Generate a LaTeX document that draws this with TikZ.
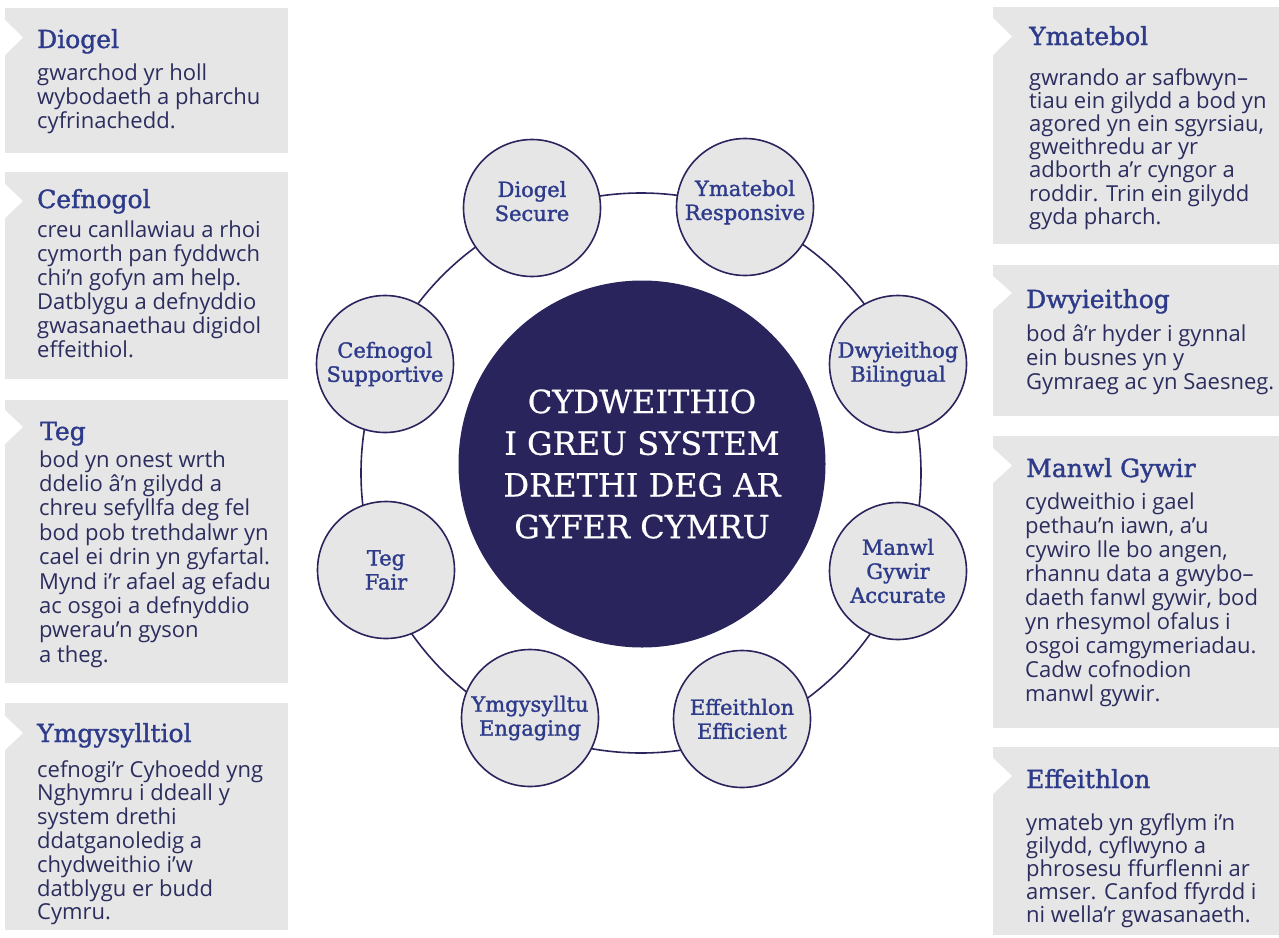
\documentclass[tikz,border=0pt]{standalone}
\usepackage{fontspec}
\setmainfont{Open Sans}
\newfontfamily\slab[FakeBold=1.4]{DejaVu Serif}
\newfontfamily\coref[FakeBold=0.6]{DejaVu Serif}
\newfontfamily\bodyf{Open Sans}
\definecolor{boxgray}{HTML}{E6E6E6}
\definecolor{navy}{HTML}{2A245C}
\definecolor{titleblue}{HTML}{2D3B8A}
\definecolor{bodyink}{HTML}{2B2D5E}
\tikzset{
  infobox/.style={fill=boxgray},
  notch/.style={fill=white},
  boxtitle/.style={anchor=base west, inner sep=0pt, text=titleblue, font=\slab\fontsize{25}{28}\selectfont},
  boxbody/.style={anchor=base west, inner sep=0pt, align=left, text=bodyink, font=\bodyf\fontsize{22}{24}\selectfont},
  value/.style={circle, draw=navy, line width=1.6pt, fill=boxgray, minimum size=137pt, inner sep=0pt, align=center, text=titleblue, font=\slab\fontsize{21}{24}\selectfont},
  ring/.style={circle, draw=navy, line width=1.6pt, minimum size=560pt, inner sep=0pt},
  core/.style={circle, fill=navy, minimum size=367pt, inner sep=0pt, align=center, text=white, font=\coref\fontsize{32}{41.7}\selectfont}
}
\begin{document}
\begin{tikzpicture}[x=1pt,y=-1pt]
\useasboundingbox (0,0) rectangle (1279,937);
% left boxes (body nodes are anchored at the baseline of their last line)
\fill[infobox] (5,8) rectangle (288,153);
\fill[notch] (5,20) -- (23,37.5) -- (5,55) -- cycle;
\node[boxtitle] (tdiogel) at (37,48) {Diogel};
\node[boxbody] (bdiogel) at (37,128) {gwarchod yr holl\\wybodaeth a pharchu\\cyfrinachedd.};

\fill[infobox] (5,172) rectangle (288,379);
\fill[notch] (5,184) -- (23,201) -- (5,218) -- cycle;
\node[boxtitle] (tcefn) at (37,208) {Cefnogol};
\node[boxbody] (bcefn) at (37,357) {creu canllawiau a rhoi\\cymorth pan fyddwch\\chi’n gofyn am help.\\Datblygu a defnyddio\\gwasanaethau digidol\\effeithiol.};

\fill[infobox] (5,400) rectangle (288,683);
\fill[notch] (5,410) -- (23,427) -- (5,444) -- cycle;
\node[boxtitle] (tteg) at (40,440) {Teg};
\node[boxbody, font=\bodyf\fontsize{22}{24.4}\selectfont] (bteg) at (39,662.2) {bod yn onest wrth\\ddelio â’n gilydd a\\chreu sefyllfa deg fel\\bod pob trethdalwr yn\\cael ei drin yn gyfartal.\\Mynd i’r afael ag efadu\\ac osgoi a defnyddio\\pwerau’n gyson\\a theg.};

\fill[infobox] (5,703) rectangle (288,930);
\fill[notch] (5,716) -- (23,733) -- (5,750) -- cycle;
\node[boxtitle] (tymg) at (37,742) {Ymgysylltiol};
\node[boxbody, font=\bodyf\fontsize{22}{23.8}\selectfont] (bymg) at (37,919.8) {cefnogi’r Cyhoedd yng\\Nghymru i ddeall y\\system drethi\\ddatganoledig a\\chydweithio i’w\\datblygu er budd\\Cymru.};

% right boxes
\fill[infobox] (993,7) rectangle (1279,244);
\fill[notch] (993,18) -- (1012,36.5) -- (993,55) -- cycle;
\node[boxtitle] (tymat) at (1029,45) {Ymatebol};
\node[boxbody, font=\bodyf\fontsize{22}{23.2}\selectfont] (bymat) at (1029,224.2) {gwrando ar safbwyn–\\tiau ein gilydd a bod yn\\agored yn ein sgyrsiau,\\gweithredu ar yr\\adborth a’r cyngor a\\roddir. Trin ein gilydd\\gyda pharch.};

\fill[infobox] (993,265) rectangle (1279,416);
\fill[notch] (993,276) -- (1012,293) -- (993,310) -- cycle;
\node[boxtitle] (tdwy) at (1026,308) {Dwyieithog};
\node[boxbody] (bdwy) at (1026,389) {bod â’r hyder i gynnal\\ein busnes yn y\\Gymraeg ac yn Saesneg.};

\fill[infobox] (993,436) rectangle (1279,728);
\fill[notch] (993,448) -- (1012,465.5) -- (993,483) -- cycle;
\node[boxtitle] (tmanwl) at (1026,477) {Manwl Gywir};
\node[boxbody, font=\bodyf\fontsize{22}{24.1}\selectfont] (bmanwl) at (1025,701.8) {cydweithio i gael\\pethau’n iawn, a’u\\cywiro lle bo angen,\\rhannu data a gwybo–\\daeth fanwl gywir, bod\\yn rhesymol ofalus i\\osgoi camgymeriadau.\\Cadw cofnodion\\manwl gywir.};

\fill[infobox] (993,747) rectangle (1279,935);
\fill[notch] (993,758) -- (1012,776) -- (993,794) -- cycle;
\node[boxtitle] (teff) at (1026,788) {Effeithlon};
\node[boxbody, font=\bodyf\fontsize{22}{23}\selectfont] (beff) at (1026,922) {ymateb yn gyflym i’n\\gilydd, cyflwyno a\\phrosesu ffurflenni ar\\amser. Canfod ffyrdd i\\ni wella’r gwasanaeth.};

% ring and circles
\node[ring] (ring) at (641,473) {};
\node[core] (core) at (642,464) {CYDWEITHIO\\I GREU SYSTEM\\DRETHI DEG AR\\GYFER CYMRU};
\node[value] (cdiogel) at (532,208) {Diogel\\Secure\\[-10pt]};
\node[value] (cymat) at (745,207) {Ymatebol\\Responsive\\[-10pt]};
\node[value] (ccefn) at (385,364) {Cefnogol\\Supportive};
\node[value] (cdwy) at (898,364) {Dwyieithog\\Bilingual};
\node[value] (cteg) at (386,570) {Teg\\Fair};
\node[value] (cmanwl) at (898,571) {Manwl\\Gywir\\Accurate};
\node[value] (cymg) at (530,718) {Ymgysylltu\\Engaging};
\node[value] (ceff) at (742,719) {Effeithlon\\Efficient};
\end{tikzpicture}
\end{document}
